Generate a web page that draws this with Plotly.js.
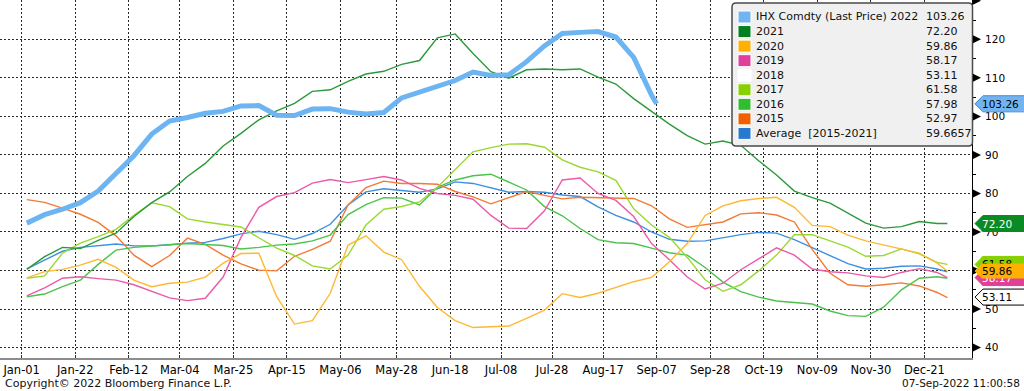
<!DOCTYPE html>
<html>
<head>
<meta charset="utf-8">
<script src="https://cdn.plot.ly/plotly-3.0.1.min.js"></script>
<style>
html,body{margin:0;padding:0;background:#ffffff;overflow:hidden}
#chart{width:1024px;height:391px}
</style>
</head>
<body>
<div id="chart"></div>
<script>
// ---------------- DATA ----------------
const dates = ['2022-01-03','2022-01-10','2022-01-17','2022-01-24','2022-01-31','2022-02-07','2022-02-14','2022-02-21','2022-02-28',
  '2022-03-07','2022-03-14','2022-03-21','2022-03-28','2022-04-04','2022-04-11','2022-04-18','2022-04-25','2022-05-02','2022-05-09',
  '2022-05-16','2022-05-23','2022-05-30','2022-06-06','2022-06-13','2022-06-20','2022-06-27','2022-07-04','2022-07-11','2022-07-18',
  '2022-07-25','2022-08-01','2022-08-08','2022-08-15','2022-08-22','2022-08-29','2022-09-05','2022-09-12','2022-09-19','2022-09-26',
  '2022-10-03','2022-10-10','2022-10-17','2022-10-24','2022-10-31','2022-11-07','2022-11-14','2022-11-21','2022-11-28','2022-12-05',
  '2022-12-12','2022-12-19','2022-12-26','2022-12-30'];
const dates2022 = ['2022-01-03','2022-01-10','2022-01-17','2022-01-24','2022-01-31','2022-02-07','2022-02-14','2022-02-21','2022-02-28',
  '2022-03-07','2022-03-14','2022-03-21','2022-03-28','2022-04-04','2022-04-11','2022-04-18','2022-04-25','2022-05-02','2022-05-09',
  '2022-05-16','2022-05-23','2022-05-30','2022-06-06','2022-06-13','2022-06-20','2022-06-27','2022-07-04','2022-07-11','2022-07-18',
  '2022-07-25','2022-08-01','2022-08-08','2022-08-15','2022-08-22','2022-08-29','2022-09-05','2022-09-07'];

const tickDates = ['2022-01-01','2022-01-22','2022-02-12','2022-03-04','2022-03-25','2022-04-15','2022-05-06','2022-05-28','2022-06-18',
  '2022-07-08','2022-07-28','2022-08-17','2022-09-07','2022-09-28','2022-10-19','2022-11-09','2022-11-30','2022-12-21'];
const tickLabels = ['Jan-01','Jan-22','Feb-12','Mar-04','Mar-25','Apr-15','May-06','May-28','Jun-18',
  'Jul-08','Jul-28','Aug-17','Sep-07','Sep-28','Oct-19','Nov-09','Nov-30','Dec-21'];

const yTickVals = [40,50,60,70,80,90,100,110,120,130];
const yTickText = ['40','50','60','70','80','90','100','110','120',''];
const yMinorVals = [45,55,65,75,85,95,105,115,125];

const y2022 = [72.3,74.5,75.9,77.6,80.6,85.2,89.8,95.4,98.8,99.7,100.8,101.3,102.7,102.8,100.3,100.2,101.9,102.0,101.1,100.6,
  101.0,104.8,106.3,107.6,109.3,111.5,110.6,110.8,114.2,118.3,121.5,121.8,122.0,120.6,115.3,105.5,103.26];
const y2021 = [60.3,63.6,66.0,65.7,67.8,69.7,74.0,77.6,80.4,84.4,87.8,92.3,95.6,99.1,101.4,103.4,106.5,106.9,109.1,111.0,
  111.7,113.5,114.5,120.4,121.4,116.3,111.6,109.9,112.1,112.3,112.1,112.3,110.2,108.4,104.6,101.2,98.0,95.0,92.8,93.6,
  92.5,88.5,84.8,80.6,78.9,77.5,74.8,72.3,71.0,71.4,72.7,72.2,72.20];
const y2020 = [58.1,59.7,60.3,61.4,62.9,60.8,57.5,55.8,56.7,57.0,58.3,61.9,64.4,64.5,53.2,46.1,47.0,54.1,66.6,69.0,
  64.8,62.8,55.9,50.4,47.0,45.2,45.4,45.6,47.6,49.7,54.0,53.0,54.1,55.6,57.1,58.2,62.3,67.0,74.3,76.8,
  78.1,78.7,79.0,76.4,71.7,71.4,69.2,67.7,66.6,65.7,64.5,61.9,59.86];
const y2019 = [53.4,55.5,58.0,58.4,57.9,57.5,56.3,54.5,52.9,52.2,52.8,58.3,68.6,76.4,79.2,80.2,82.7,83.6,82.8,83.6,
  84.4,83.5,81.3,80.0,79.5,78.5,74.3,71.0,70.9,75.5,83.5,84.0,80.0,78.2,74.0,67.0,62.8,58.3,55.2,56.7,
  60.2,63.0,65.9,64.0,60.4,59.7,59.4,58.6,58.2,59.5,60.5,59.5,58.17];
const last2018 = 53.11;
const y2017 = [58.0,58.6,64.5,67.1,68.8,70.7,74.3,77.6,76.6,73.4,72.6,72.0,71.3,68.5,65.8,63.9,61.2,60.4,64.0,71.8,
  75.9,76.6,77.8,81.6,86.3,90.8,91.9,92.8,92.9,92.0,88.7,86.8,85.6,83.4,76.0,71.8,68.6,63.4,57.6,54.6,
  56.3,59.9,64.0,69.3,69.3,67.6,66.1,63.7,63.9,65.6,64.3,62.1,61.58];
const y2016 = [53.2,53.9,55.8,57.5,61.6,65.3,66.0,66.4,66.7,67.0,66.8,66.5,65.6,66.0,66.6,66.9,67.7,69.2,74.5,77.1,
  78.9,78.8,77.0,81.6,83.5,84.6,85.0,82.9,80.9,76.6,74.2,70.9,68.0,67.2,67.0,65.8,64.6,64.0,60.8,57.0,
  54.5,53.1,52.1,51.7,51.3,49.5,48.3,48.1,50.5,55.0,58.0,58.4,57.98];
const y2015 = [78.4,77.7,76.2,74.6,72.5,69.0,64.0,61.0,63.9,68.4,66.8,64.0,61.7,60.1,59.9,63.7,65.5,67.6,77.0,81.5,
  83.2,82.6,82.6,82.4,80.5,79.1,77.3,78.8,80.5,79.5,78.6,79.0,78.9,78.9,78.7,76.8,73.4,71.2,71.9,72.6,
  74.7,75.0,74.4,72.6,65.5,59.3,56.3,55.9,56.3,56.8,56.0,54.3,52.97];
const yAvg = [60.4,62.6,65.0,66.0,66.4,66.9,66.4,66.4,66.7,67.1,67.3,68.3,69.5,70.2,69.3,68.1,69.6,72.0,77.0,80.4,
  81.2,80.7,80.3,81.2,83.0,82.6,81.4,80.3,80.5,80.3,79.6,79.2,76.5,74.3,72.6,70.0,68.1,67.6,67.7,68.5,
  69.3,69.9,69.7,68.0,65.9,64.0,61.8,60.4,60.6,61.1,61.2,60.4,59.6657];

// ---------------- STYLE ----------------
const FONT = "Tahoma, 'DejaVu Sans', sans-serif";
const W = 1024, H = 391, ML = 0, MR = 52, MT = 0, MB = 33;
const PW = W - ML - MR, PH = H - MT - MB;
const px2x = p => (p - ML) / PW;
const py2y = p => 1 - (p - MT) / PH;
const last = a => a[a.length - 1];

const lineTraces = [
  {name:'Average', x:dates, y:yAvg, color:'#3f8fe0', w:1.4},
  {name:'2015', x:dates, y:y2015, color:'#f37a35', w:1.4},
  {name:'2016', x:dates, y:y2016, color:'#4cc24c', w:1.4},
  {name:'2017', x:dates, y:y2017, color:'#9ad832', w:1.4},
  {name:'2019', x:dates, y:y2019, color:'#ec5aa8', w:1.4},
  {name:'2020', x:dates, y:y2020, color:'#ffb833', w:1.4},
  {name:'2021', x:dates, y:y2021, color:'#2a9a3a', w:1.4},
  {name:'2022', x:dates2022, y:y2022, color:'#6db4f2', w:5}
];
const data = lineTraces.map(t => ({
  type:'scatter', mode:'lines', name:t.name, x:t.x, y:t.y,
  line:{color:t.color, width:t.w}, hoverinfo:'skip', showlegend:false
}));

// legend
const legNames = ['IHX Comdty (Last Price) 2022','2021','2020','2019','2018','2017','2016','2015','Average\u00a0\u00a0[2015-2021]'];
const legColors = ['#72b4f0','#00801e','#ffb000','#e0409a','#ffffff','#88d000','#30be30','#f06000','#2878d0'];
const legValues = [last(y2022).toFixed(2), last(y2021).toFixed(2), last(y2020).toFixed(2), last(y2019).toFixed(2),
  last2018.toFixed(2), last(y2017).toFixed(2), last(y2016).toFixed(2), last(y2015).toFixed(2), last(yAvg).toFixed(4)];

const shapes = [];
const annotations = [];

// legend box with rounded corners
(function(){
  const x0 = px2x(732), x1 = px2x(972.5), y0 = py2y(146), y1 = py2y(3);
  const rx = 4/PW, ry = 4/PH;
  shapes.push({type:'path', xref:'paper', yref:'paper', layer:'above',
    path:`M ${x0+rx},${y1} L ${x1-rx},${y1} Q ${x1},${y1} ${x1},${y1-ry} L ${x1},${y0+ry} Q ${x1},${y0} ${x1-rx},${y0} L ${x0+rx},${y0} Q ${x0},${y0} ${x0},${y0+ry} L ${x0},${y1-ry} Q ${x0},${y1} ${x0+rx},${y1} Z`,
    fillcolor:'#f0f0f0', line:{color:'#4a4a4a', width:1.5}});
})();
legNames.forEach((n, k) => {
  const cy = 17 + 14.55 * k;
  shapes.push({type:'rect', xref:'paper', yref:'paper', layer:'above',
    x0:px2x(738), x1:px2x(751), y0:py2y(cy + 6), y1:py2y(cy - 6),
    fillcolor:legColors[k], line:{color:'#ffffff', width:1}});
  annotations.push({xref:'paper', yref:'paper', x:px2x(754), y:py2y(cy), xanchor:'left', yanchor:'middle',
    text:n, showarrow:false, font:{family:FONT, size:11, color:'#111'}});
  annotations.push({xref:'paper', yref:'paper', x:px2x(924), y:py2y(cy), xanchor:'left', yanchor:'middle',
    text:legValues[k], showarrow:false, font:{family:FONT, size:11, color:'#111'}});
});

// y tick arrow heads
yTickVals.forEach(v => {
  shapes.push({type:'path', xref:'paper', xsizemode:'pixel', xanchor:1, yref:'y', ysizemode:'pixel', yanchor:v,
    layer:'above', path:'M 1,4 L 9,0 L 1,-4 Z', fillcolor:'#000', line:{width:0}});
});

// right-hand value badges
const badges = [
  {v:last(y2022), txt:last(y2022).toFixed(2), fill:'#72b4f0', border:'#3a7fc8', font:'#000'},
  {v:last(y2021), txt:last(y2021).toFixed(2), fill:'#0a8a22', border:'#0a8a22', font:'#fff'},
  {v:last(y2017), txt:last(y2017).toFixed(2), fill:'#88d000', border:'#88d000', font:'#000'},
  {v:last(y2019), txt:last(y2019).toFixed(2), fill:'#e0409a', border:'#e0409a', font:'#fff'},
  {v:last(y2020), txt:last(y2020).toFixed(2), fill:'#ffb000', border:'#ffb000', font:'#000'},
  {v:last2018, txt:last2018.toFixed(2), fill:'#ffffff', border:'#000000', font:'#000', nobg:true}
];
badges.forEach(b => {
  shapes.push({type:'path', xref:'paper', xsizemode:'pixel', xanchor:1, yref:'y', ysizemode:'pixel', yanchor:b.v,
    layer:'above', path:'M 3,0 L 11,8 L 60,8 L 60,-8 L 11,-8 Z', fillcolor:b.fill, line:{color:b.border, width:1}});
  annotations.push({xref:'paper', yref:'y', x:1, xshift:9, y:b.v, xanchor:'left', yanchor:'middle',
    text:b.txt, showarrow:false, align:'left', width:45, height:14, borderpad:0,
    bgcolor:b.nobg ? 'rgba(0,0,0,0)' : b.fill,
    font:{family:FONT, size:10.5, color:b.font}});
});

// footer
annotations.push({xref:'paper', yref:'paper', x:px2x(3), y:py2y(383), xanchor:'left', yanchor:'middle',
  text:'Copyright\u00a9 2022 Bloomberg Finance L.P.', showarrow:false, font:{family:FONT, size:11, color:'#111'}});
annotations.push({xref:'paper', yref:'paper', x:px2x(1022), y:py2y(383), xanchor:'right', yanchor:'middle',
  text:'07-Sep-2022 11:00:58', showarrow:false, font:{family:FONT, size:10.5, color:'#111'}});

const layout = {
  width:W, height:H,
  margin:{l:ML, r:MR, t:MT, b:MB, pad:0},
  paper_bgcolor:'#ffffff', plot_bgcolor:'#ffffff',
  showlegend:false,
  font:{family:FONT, size:11, color:'#000'},
  xaxis:{
    type:'date', range:['2021-12-23 12:00','2023-01-08 16:00'],
    tickmode:'array', tickvals:tickDates, ticktext:tickLabels,
    showgrid:true, gridcolor:'#2a2a2a', griddash:'2px,2px', gridwidth:1,
    showline:true, linecolor:'#8c8c8c', linewidth:2, zeroline:false,
    ticks:'inside', ticklen:3, tickcolor:'#333', tickwidth:1,
    tickfont:{family:FONT, size:11.5, color:'#000'}, fixedrange:true
  },
  yaxis:{
    side:'right', range:[37.3,130.2],
    tickmode:'array', tickvals:yTickVals, ticktext:yTickText,
    showgrid:true, gridcolor:'#2a2a2a', griddash:'2px,2px', gridwidth:1,
    showline:true, linecolor:'#000', linewidth:1, zeroline:false,
    ticks:'', ticklabelstandoff:10,
    minor:{tickmode:'array', tickvals:yMinorVals, ticks:'outside', ticklen:3, tickcolor:'#000', tickwidth:1, showgrid:false},
    tickfont:{family:FONT, size:10.5, color:'#000'}, fixedrange:true
  },
  shapes:shapes,
  annotations:annotations
};

Plotly.newPlot('chart', data, layout, {staticPlot:true, displayModeBar:false});
</script>
</body>
</html>
